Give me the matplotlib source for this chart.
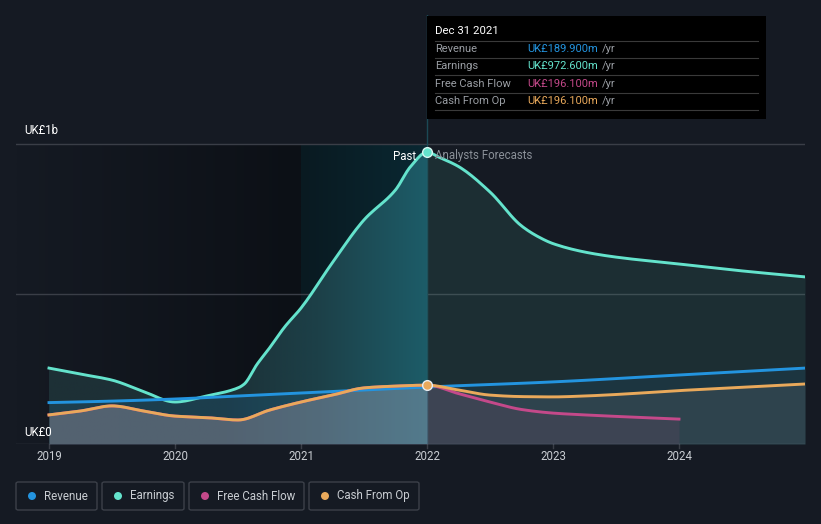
import numpy as np
import matplotlib
matplotlib.use("Agg")
import matplotlib.pyplot as plt
from matplotlib.patches import Rectangle, FancyBboxPatch, Ellipse
from matplotlib.lines import Line2D

plt.rcParams['font.family'] = ['Roboto', 'DejaVu Sans']

# ---- data (UK£ m) ----
rev_x = [2019.0, 2019.5, 2020.0, 2020.5, 2021.0, 2021.5, 2022.0, 2023.0, 2024.0, 2025.0]
rev_y = [138, 143, 150, 160, 170, 180, 189.9, 207, 230, 253]

earn_x = [2019.0, 2019.25, 2019.5, 2019.75, 2020.0, 2020.25, 2020.5, 2020.55, 2020.65,
          2020.75, 2020.87, 2021.0, 2021.25, 2021.5, 2021.75, 2021.87, 2022.0,
          2022.1, 2022.25, 2022.5, 2022.75, 2022.9, 2023.0, 2023.25, 2023.5, 2024.0, 2024.5, 2025.0]
earn_y = [253, 233, 213, 175, 140, 160, 187, 200, 265,
          320, 390, 453, 605, 747, 847, 925, 972.6,
          955, 925, 840, 727, 687, 668, 640, 623, 600, 577, 557]

cfo_x = [2019.0, 2019.25, 2019.5, 2019.75, 2020.0, 2020.25, 2020.5, 2020.75, 2021.0,
         2021.25, 2021.5, 2021.75, 2022.0, 2022.25, 2022.5, 2022.75, 2023.0, 2023.25,
         2023.5, 2024.0, 2024.5, 2025.0]
cfo_y = [97, 110, 127, 110, 93, 88, 80, 113, 140,
         163, 187, 193, 196.1, 180, 163, 158, 157, 160,
         165, 178, 189, 200]

fcf_x = [2019.0, 2019.25, 2019.5, 2019.75, 2020.0, 2020.25, 2020.5, 2020.75, 2021.0,
         2021.25, 2021.5, 2021.75, 2022.0, 2022.25, 2022.5, 2022.75, 2023.0, 2023.25,
         2023.5, 2024.0]
fcf_y = [97, 110, 127, 110, 93, 88, 80, 113, 140,
         163, 187, 193, 196.1, 168, 140, 115, 103, 97,
         92, 83]

years = [2019, 2020, 2021, 2022, 2023, 2024]
now_x = 2022.0

C_REV = '#2394df'
C_EARN = '#64e3cc'
C_FCF = '#c4498a'
C_CFO = '#e9a95b'
BG = '#151a23'
GRID = '#3a3e47'


def smooth(xs, ys, n=12):
    # monotone cubic (Fritsch-Carlson) just for drawing the curve smoothly
    x = np.asarray(xs, float)
    y = np.asarray(ys, float)
    h = np.diff(x)
    d = np.diff(y) / h
    m = np.zeros_like(y)
    m[0], m[-1] = d[0], d[-1]
    for i in range(1, len(y) - 1):
        if d[i - 1] * d[i] > 0:
            w1 = 2 * h[i] + h[i - 1]
            w2 = h[i] + 2 * h[i - 1]
            m[i] = (w1 + w2) / (w1 / d[i - 1] + w2 / d[i])
    ox, oy = [], []
    for i in range(len(h)):
        t = np.linspace(0, 1, n, endpoint=False)
        h00 = 2 * t**3 - 3 * t**2 + 1
        h10 = t**3 - 2 * t**2 + t
        h01 = -2 * t**3 + 3 * t**2
        h11 = t**3 - t**2
        ox.append(x[i] + t * h[i])
        oy.append(h00 * y[i] + h10 * h[i] * m[i] + h01 * y[i + 1] + h11 * h[i] * m[i + 1])
    ox.append([x[-1]])
    oy.append([y[-1]])
    return np.concatenate(ox), np.concatenate(oy)


W, H = 821, 524
fig = plt.figure(figsize=(W / 100, H / 100), dpi=100, facecolor=BG)


def fx(px):
    return px / W


def fy(py):
    return 1 - py / H


# axes: left 16px, right 805px, bottom 444px (=0), top 15px
x0 = 2019 - (49 - 16) / 126.0
ax = fig.add_axes([fx(16), fy(444), fx(805) - fx(16), fy(15) - fy(444)])
ax.set_facecolor(BG)
ax.set_xlim(x0, 2025.0)
ytop = (444 - 15) / 0.3
ax.set_ylim(0, ytop)
for s in ax.spines.values():
    s.set_visible(False)
ax.set_xticks([])
ax.set_yticks([])

# past background: darkening gradient, then teal band before "now"
grad = np.linspace(0, 1, 200)
c_a = np.array([21, 26, 35]) / 255
c_b = np.array([12, 16, 22]) / 255
img1 = (c_a[None, :] * (1 - grad[:, None]) + c_b[None, :] * grad[:, None])[None, :, :]
ax.imshow(img1, extent=[x0, 2021.0, 0, 1000], aspect='auto', zorder=0.5, interpolation='bilinear')
c_c = np.array([10, 26, 33]) / 255
c_d = np.array([9, 40, 50]) / 255
img2 = (c_c[None, :] * (1 - grad[:, None]) + c_d[None, :] * grad[:, None])[None, :, :]
ax.imshow(img2, extent=[2021.0, now_x, 0, 1000], aspect='auto', zorder=0.5, interpolation='bilinear')

# grid lines
for gv in [0, 500, 1000]:
    ax.axhline(gv, color=GRID, lw=1, zorder=1)
ax.plot([now_x, now_x], [0, ytop], color='#1b4955', lw=1, zorder=1.2)

ex, ey = smooth(earn_x, earn_y)
rx, ry = smooth(rev_x, rev_y)
cx, cy = smooth(cfo_x, cfo_y)
qx, qy = smooth(fcf_x, fcf_y)

past = ex <= now_x + 1e-9
fut = ex >= now_x - 1e-9

# earnings fill: forecast flat, past gradient clipped
ax.fill_between(ex[fut], 0, ey[fut], color='#5ae0c6', alpha=0.1, lw=0, zorder=2)
poly = ax.fill_between(ex[past], 0, ey[past], color='none', lw=0, zorder=2)
g3 = np.array([[30, 48, 54], [28, 48, 54], [28, 64, 72], [29, 92, 104]]) / 255
gx = np.linspace(0, 1, 300)
stops = np.array([0, 0.5, 0.735, 1.0])
img3 = np.stack([np.interp(gx, stops, g3[:, k]) for k in range(3)], axis=1)[None, :, :]
im = ax.imshow(img3, extent=[x0, now_x, 0, 1000], aspect='auto', zorder=2, interpolation='bilinear')
im.set_clip_path(poly.get_paths()[0], transform=ax.transData)

m = rx <= now_x + 1e-9
ax.fill_between(rx[m], 0, ry[m], color=C_REV, alpha=0.14, lw=0, zorder=3)
m = rx >= now_x - 1e-9
ax.fill_between(rx[m], 0, ry[m], color=C_REV, alpha=0.08, lw=0, zorder=3)

m = cx <= now_x + 1e-9
ax.fill_between(cx[m], 0, cy[m], color='#b4a3b0', alpha=0.36, lw=0, zorder=4)
m = cx >= now_x - 1e-9
ax.fill_between(cx[m], 0, cy[m], color='#a09aa0', alpha=0.14, lw=0, zorder=4)
m = qx >= now_x - 1e-9
ax.fill_between(qx[m], 0, qy[m], color='#7a4a70', alpha=0.2, lw=0, zorder=4.5)

# lines
ax.plot(ex, ey, color=C_EARN, lw=2.1, zorder=6)
ax.plot(rx, ry, color=C_REV, lw=2.1, zorder=6)
ax.plot(qx, qy, color=C_FCF, lw=2.1, zorder=6.5)
ax.plot(cx, cy, color=C_CFO, lw=2.1, zorder=7)

ax.plot([now_x], [earn_y[earn_x.index(now_x)]], 'o', ms=7, color=C_EARN, mec='#d8f7f1', mew=1, zorder=9)
ax.plot([now_x], [cfo_y[cfo_x.index(now_x)]], 'o', ms=7, color=C_CFO, mec='#e9eef2', mew=1, zorder=9)

# past / forecast labels
ax.text(now_x - 0.09, 960, 'Past', color='white', fontsize=8.3, ha='right', va='center', zorder=10)
ax.text(now_x + 0.065, 960, 'Analysts Forecasts', color='#8a9098', fontsize=8.3, ha='left', va='center', zorder=10)

# y labels
fig.text(fx(24), fy(131), 'UK£1b', color='white', fontsize=8.3, va='center', ha='left')
fig.text(fx(24), fy(432), 'UK£0', color='white', fontsize=8.3, va='center', ha='left')

# x ticks
for yr in years:
    ax.plot([yr, yr], [0, -13], color=GRID, lw=1, clip_on=False, zorder=1)
    ax.text(yr, -43, str(yr), color='#c9cdd2', fontsize=8.3, ha='center', va='center', clip_on=False)

# tooltip
fig.patches.append(Rectangle((fx(427), fy(119)), fx(766) - fx(427), fy(16) - fy(119),
                             transform=fig.transFigure, facecolor='black', edgecolor='none', zorder=20))
fig.text(fx(435), fy(31), 'Dec 31 2021', color='white', fontsize=8.2, va='center', zorder=21)
rows = [('Revenue', 'UK£189.900m', C_REV), ('Earnings', 'UK£972.600m', C_EARN),
        ('Free Cash Flow', 'UK£196.100m', C_FCF), ('Cash From Op', 'UK£196.100m', C_CFO)]
renderer = fig.canvas.get_renderer()
for i, (lab, val, col) in enumerate(rows):
    yy = 49 + i * 17.4
    fig.lines.append(Line2D([fx(435), fx(758)], [fy(yy - 8.5), fy(yy - 8.5)], color='#3a3a3a',
                            lw=0.8, transform=fig.transFigure, zorder=21))
    fig.text(fx(435), fy(yy), lab, color='#9a9ea4', fontsize=8, va='center', zorder=21)
    t = fig.text(fx(527), fy(yy), val, color=col, fontsize=8, va='center', zorder=21)
    x_end = t.get_window_extent(renderer).x1
    fig.text(fx(x_end + 4), fy(yy), '/yr', color='#9a9ea4', fontsize=8, va='center', zorder=21)
fig.lines.append(Line2D([fx(435), fx(758)], [fy(110), fy(110)], color='#3a3a3a',
                        lw=0.8, transform=fig.transFigure, zorder=21))

# legend
items = [('Revenue', C_REV, 16, 97), ('Earnings', C_EARN, 102, 184),
         ('Free Cash Flow', C_FCF, 189, 304), ('Cash From Op', C_CFO, 309, 419)]
for lab, col, l, r in items:
    fig.patches.append(FancyBboxPatch((fx(l), fy(510)), fx(r) - fx(l), fy(482) - fy(510),
                                      boxstyle='round,pad=0,rounding_size=0.003',
                                      transform=fig.transFigure, facecolor='none',
                                      edgecolor='#3c4049', lw=1))
    fig.patches.append(Ellipse((fx(l + 16), fy(496)), 8 / W, 8 / H,
                               transform=fig.transFigure, facecolor=col, edgecolor='none'))
    fig.text(fx(l + 28), fy(496), lab, color='#c9cdd2', fontsize=8.3, va='center', ha='left')

fig.savefig('out.png', dpi=100, facecolor=BG)
